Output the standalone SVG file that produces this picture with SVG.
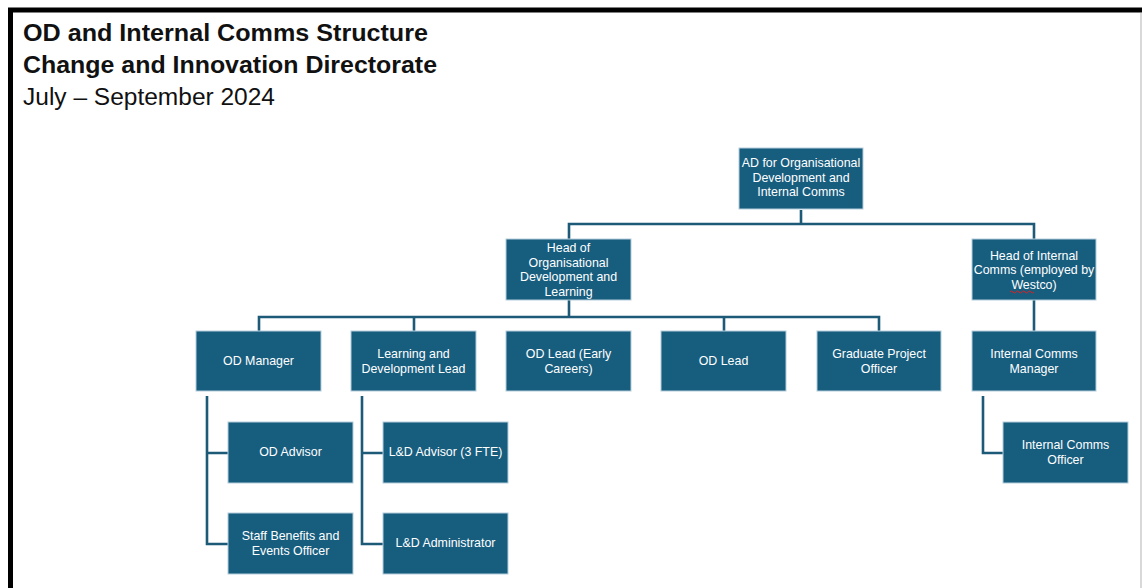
<svg xmlns="http://www.w3.org/2000/svg" width="1142" height="588" viewBox="0 0 1142 588">
<style>
.n rect{fill:#175d7e;stroke:#b5cedb;stroke-width:1}
.n text{fill:#ffffff;font-family:"Liberation Sans",Arial,sans-serif;font-size:12.4px;text-anchor:middle}
.c path{fill:none;stroke:#1d5a78;stroke-width:2.6}
.t{font-family:"Liberation Sans",Arial,sans-serif;fill:#111}
</style>
<rect x="0" y="0" width="1142" height="588" fill="#ffffff"/>
<g id="frame">
<path d="M10.5 588 V10 H1142" fill="none" stroke="#000" stroke-width="5"/>
<line x1="1141" y1="13" x2="1141" y2="588" stroke="#cccccc" stroke-width="1.5"/>
</g>
<g id="title" class="t">
<text x="23" y="41" font-size="23.5" font-weight="bold" textLength="405" lengthAdjust="spacingAndGlyphs">OD and Internal Comms Structure</text>
<text x="23" y="73" font-size="23.5" font-weight="bold" textLength="414" lengthAdjust="spacingAndGlyphs">Change and Innovation Directorate</text>
<text x="23" y="105" font-size="23.5" textLength="252" lengthAdjust="spacingAndGlyphs">July – September 2024</text>
</g>
<g id="connectors" class="c">
<path d="M801 210 V224 M569 239 V224 H1034 V239"/>
<path d="M569 300 V317 M259 331 V317 H879 V331 M414 317 V331 M724 317 V331"/>
<path d="M1034 300 V331"/>
<path d="M207 396 V544 H228 M207 453 H228"/>
<path d="M362 396 V544 H383 M362 453 H383"/>
<path d="M983 396 V453 H1003"/>
</g>
<g id="ad" class="n"><rect x="739" y="148" width="124" height="61"/><text x="801" y="167">AD for Organisational</text><text x="801" y="182">Development and</text><text x="801" y="196">Internal Comms</text></g>
<g id="head-od" class="n"><rect x="506" y="239" width="125" height="61"/><text x="568.5" y="252">Head of</text><text x="568.5" y="267">Organisational</text><text x="568.5" y="281">Development and</text><text x="568.5" y="296">Learning</text></g>
<g id="head-ic" class="n"><rect x="972" y="239" width="124" height="61"/><text x="1034" y="260">Head of Internal</text><text x="1034" y="274">Comms (employed by</text><text x="1034" y="289">Westco)</text><path d="M1010 292 q1.5 -2 3 0 t3 0 t3 0 t3 0 t3 0 t3 0 t3 0 t3 0" fill="none" stroke="#e02020" stroke-width="1"/></g>
<g id="od-manager" class="n"><rect x="196" y="331" width="125" height="60"/><text x="258.5" y="365">OD Manager</text></g>
<g id="ld-lead" class="n"><rect x="351" y="331" width="125" height="60"/><text x="413.5" y="358">Learning and</text><text x="413.5" y="373">Development Lead</text></g>
<g id="od-lead-ec" class="n"><rect x="506" y="331" width="125" height="60"/><text x="568.5" y="358">OD Lead (Early</text><text x="568.5" y="373">Careers)</text></g>
<g id="od-lead" class="n"><rect x="661" y="331" width="125" height="60"/><text x="723.5" y="365">OD Lead</text></g>
<g id="grad" class="n"><rect x="817" y="331" width="124" height="60"/><text x="879" y="358">Graduate Project</text><text x="879" y="373">Officer</text></g>
<g id="ic-manager" class="n"><rect x="972" y="331" width="124" height="60"/><text x="1034" y="358">Internal Comms</text><text x="1034" y="373">Manager</text></g>
<g id="od-advisor" class="n"><rect x="228" y="422" width="125" height="61"/><text x="290.5" y="456">OD Advisor</text></g>
<g id="staff-benefits" class="n"><rect x="228" y="513" width="125" height="61"/><text x="290.5" y="540">Staff Benefits and</text><text x="290.5" y="555">Events Officer</text></g>
<g id="ld-advisor" class="n"><rect x="383" y="422" width="125" height="61"/><text x="445.5" y="456">L&amp;D Advisor (3 FTE)</text></g>
<g id="ld-admin" class="n"><rect x="383" y="513" width="125" height="61"/><text x="445.5" y="547">L&amp;D Administrator</text></g>
<g id="ic-officer" class="n"><rect x="1003" y="422" width="125" height="61"/><text x="1065.5" y="449">Internal Comms</text><text x="1065.5" y="464">Officer</text></g>
</svg>
